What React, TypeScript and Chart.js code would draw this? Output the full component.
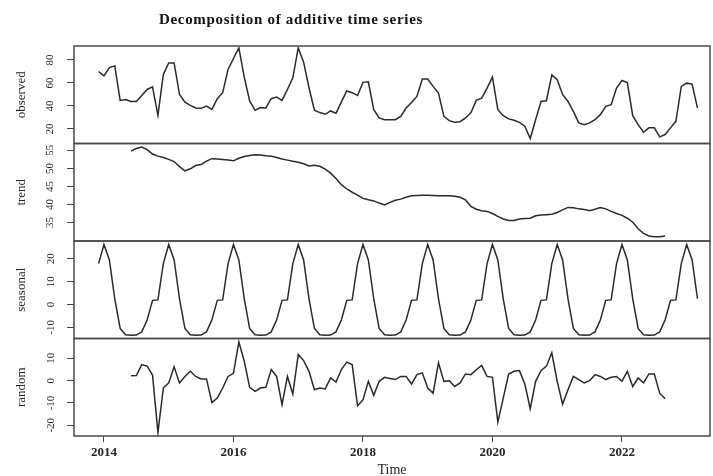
import React, { useEffect, useRef } from 'react';
import { Chart, registerables } from 'chart.js';

Chart.register(...registerables);

const TITLE = 'Decomposition of additive time series';
const X_LABEL = 'Time';
const START_TIME = 2013 + 11 / 12; // Dec 2013
const FREQUENCY = 12;
const MA_OFFSET = 6; // trend / random start 6 months later

const OBSERVED = [
  69.9, 66.1, 73.3, 74.8, 44.8, 45.5, 43.9, 43.9, 49.1, 54.3, 56.6, 31.8,
  67.3, 77.4, 77.4, 49.9, 43.3, 40.5, 38.2, 37.9, 39.9, 37.0, 46.3, 51.5,
  71.7, 81.2, 90.4, 65.0, 44.3, 36.2, 38.5, 38.2, 46.3, 47.7, 44.8, 54.3,
  64.4, 90.4, 78.0, 55.8, 36.2, 34.2, 32.7, 35.6, 33.6, 43.5, 53.0, 51.5,
  49.0, 60.5, 61.0, 36.7, 29.5, 28.0, 28.0, 28.0, 30.9, 38.2, 43.0, 48.2,
  63.3, 63.3, 57.0, 51.2, 30.9, 27.2, 25.7, 26.3, 29.5, 33.9, 44.8, 46.8,
  55.5, 65.0, 36.7, 31.5, 28.7, 27.5, 25.7, 22.3, 11.6, 28.0, 43.9, 44.5,
  67.0, 62.7, 50.0, 43.9, 35.2, 25.2, 23.7, 25.2, 28.0, 32.4, 39.6, 41.0,
  55.5, 62.1, 60.3, 31.5, 23.7, 17.1, 20.9, 20.9, 13.1, 15.1, 20.9, 26.6,
  56.9, 59.8, 59.0, 38.2,
];

const TREND = [
  54.8, 55.5, 55.9, 55.2, 54.0, 53.4, 53.0, 52.5, 51.9, 50.5, 49.3, 49.9,
  50.8, 51.1, 52.0, 52.7, 52.6, 52.5, 52.3, 52.1, 52.8, 53.3, 53.6, 53.8,
  53.7, 53.5, 53.4, 53.0, 52.6, 52.3, 52.0, 51.7, 51.3, 50.7, 50.9, 50.6,
  49.8, 48.7, 47.2, 45.5, 44.3, 43.4, 42.6, 41.7, 41.3, 41.0, 40.4, 39.9,
  40.6, 41.2, 41.5, 42.0, 42.4, 42.5, 42.6, 42.6, 42.5, 42.4, 42.4, 42.4,
  42.3, 42.0, 41.3, 39.5, 38.7, 38.3, 38.1, 37.5, 36.7, 36.0, 35.6, 35.6,
  36.0, 36.1, 36.2, 36.9, 37.1, 37.2, 37.3, 37.8, 38.5, 39.2, 39.1, 38.8,
  38.6, 38.3, 38.7, 39.2, 38.8, 38.1, 37.5, 37.0, 36.2, 35.1, 33.3, 32.0,
  31.3, 31.1, 31.1, 31.3,
];

const SEASONAL = [
  17.9,
  26.3, 19.5, 2.5, -10.5, -13.3, -13.5, -13.4, -12.0, -6.8, 1.8, 2.0, 17.9,
  26.3, 19.5, 2.5, -10.5, -13.3, -13.5, -13.4, -12.0, -6.8, 1.8, 2.0, 17.9,
  26.3, 19.5, 2.5, -10.5, -13.3, -13.5, -13.4, -12.0, -6.8, 1.8, 2.0, 17.9,
  26.3, 19.5, 2.5, -10.5, -13.3, -13.5, -13.4, -12.0, -6.8, 1.8, 2.0, 17.9,
  26.3, 19.5, 2.5, -10.5, -13.3, -13.5, -13.4, -12.0, -6.8, 1.8, 2.0, 17.9,
  26.3, 19.5, 2.5, -10.5, -13.3, -13.5, -13.4, -12.0, -6.8, 1.8, 2.0, 17.9,
  26.3, 19.5, 2.5, -10.5, -13.3, -13.5, -13.4, -12.0, -6.8, 1.8, 2.0, 17.9,
  26.3, 19.5, 2.5, -10.5, -13.3, -13.5, -13.4, -12.0, -6.8, 1.8, 2.0, 17.9,
  26.3, 19.5, 2.5, -10.5, -13.3, -13.5, -13.4, -12.0, -6.8, 1.8, 2.0, 17.9,
  26.3, 19.5, 2.5,
];

const RANDOM = [
  2.2, 2.3, 7.2, 6.5, 2.5, -23.3, -3.3, -1.0, 6.2, -1.0, 1.9, 4.2,
  1.9, 0.8, 0.8, -9.8, -7.8, -3.3, 1.9, 3.3, 17.4, 8.7, -3.0, -4.8,
  -3.3, -3.0, 5.0, 1.9, -10.8, 1.9, -6.0, 11.7, 9.0, 4.2, -4.1, -3.3,
  -3.7, 1.2, -0.6, 5.0, 8.3, 7.2, -11.3, -8.6, -0.3, -6.6, -0.3, 1.5,
  1.0, 0.5, 1.9, 1.9, -1.5, 2.7, 3.5, -3.3, -5.6, 8.0, -0.3, 0.0,
  -2.6, -1.0, 3.0, 2.7, 4.9, 6.8, 1.9, 1.5, -18.6, -7.8, 3.0, 4.2,
  4.5, -1.5, -12.6, -0.3, 4.5, 6.5, 12.5, -0.3, -10.5, -4.1, 1.9, 0.5,
  -1.0, 0.0, 2.7, 1.9, 0.5, 1.5, 1.9, -0.3, 4.2, -2.6, 1.2, -1.0,
  3.0, 3.0, -5.6, -8.1,
];

const X_TICKS = [2014, 2016, 2018, 2020, 2022];
const OBSERVED_TICKS = [20, 40, 60, 80];
const TREND_TICKS = [35, 40, 45, 50, 55];
const SEASONAL_TICKS = [-10, 0, 10, 20];
const RANDOM_TICKS = [-20, -10, 0, 10];

const FONT = 'Liberation Serif';
const INK = '#262626';

const toPoints = (values: number[], offset: number) =>
  values.map((v, i) => ({ x: START_TIME + (i + offset) / FREQUENCY, y: v }));

const PANELS = [
  { id: 'yObs', label: 'observed', values: OBSERVED, offset: 0, ticks: OBSERVED_TICKS, min: 7.3, max: 92.1, weight: 4, pad: 11 },
  { id: 'yTrend', label: 'trend', values: TREND, offset: MA_OFFSET, ticks: TREND_TICKS, min: 29.9, max: 56.9, weight: 3, pad: 11 },
  { id: 'ySeas', label: 'seasonal', values: SEASONAL, offset: 0, ticks: SEASONAL_TICKS, min: -14.9, max: 27.8, weight: 2, pad: 9 },
  { id: 'yRand', label: 'random', values: RANDOM, offset: MA_OFFSET, ticks: RANDOM_TICKS, min: -24.8, max: 18.9, weight: 1, pad: 9 },
];

const framePlugin = {
  id: 'frames',
  afterDraw(chart: any) {
    const { ctx, chartArea } = chart;
    ctx.save();
    ctx.strokeStyle = '#4a4a4a';
    ctx.lineWidth = 1.5;
    for (const p of PANELS) {
      const s = chart.scales[p.id];
      ctx.strokeRect(chartArea.left, s.top, chartArea.right - chartArea.left, s.bottom - s.top);
    }
    ctx.font = `bold 15px "${FONT}"`;
    ctx.fillStyle = '#111';
    ctx.textAlign = 'center';
    ctx.textBaseline = 'middle';
    (ctx as any).letterSpacing = '0.7px';
    ctx.fillText(TITLE, 291, 20);
    ctx.restore();
  },
};

export default function App() {
  const ref = useRef<HTMLCanvasElement | null>(null);

  useEffect(() => {
    if (!ref.current) return;
    const scales: any = {
      x: {
        type: 'linear',
        min: 2013.537,
        max: 2023.36,
        afterFit: (s: any) => { s.height = 40; },
        afterBuildTicks: (s: any) => { s.ticks = X_TICKS.map((value) => ({ value })); },
        border: { display: false },
        grid: { drawOnChartArea: false, drawTicks: true, tickLength: 6, color: '#444' },
        ticks: {
          callback: (v: any) => String(v),
          font: { family: FONT, size: 13, weight: 'bold' },
          color: INK,
          padding: 3,
          maxRotation: 0,
          autoSkip: false,
        },
        title: {
          display: true,
          text: X_LABEL,
          font: { family: FONT, size: 14 },
          color: INK,
          padding: { top: 0, bottom: -3 },
        },
      },
    };
    for (const p of PANELS) {
      scales[p.id] = {
        type: 'linear',
        position: 'left',
        stack: 'panels',
        stackWeight: 1,
        weight: p.weight,
        min: p.min,
        max: p.max,
        afterFit: (s: any) => { s.width = 74; },
        afterBuildTicks: (s: any) => { s.ticks = p.ticks.map((value) => ({ value })); },
        border: { display: false },
        grid: { drawOnChartArea: false, drawTicks: true, tickLength: 7, color: '#444' },
        ticks: {
          minRotation: 90,
          maxRotation: 90,
          crossAlign: 'center',
          padding: p.pad,
          font: { family: FONT, size: 11 },
          color: INK,
          autoSkip: false,
        },
        title: {
          display: true,
          text: p.label,
          font: { family: FONT, size: 13 },
          color: INK,
          padding: { top: 14, bottom: 0 },
        },
      };
    }

    const chart = new Chart(ref.current, {
      type: 'line',
      data: {
        datasets: PANELS.map((p) => ({
          label: p.label,
          data: toPoints(p.values, p.offset),
          yAxisID: p.id,
          borderColor: '#2a2a2a',
          borderWidth: 1.5,
          pointRadius: 0,
          tension: 0,
          fill: false,
        })),
      },
      options: {
        responsive: false,
        animation: false,
        devicePixelRatio: 1,
        parsing: false as any,
        layout: { padding: { top: 46, right: 3, left: 0, bottom: 0 } },
        plugins: { legend: { display: false }, tooltip: { enabled: false }, title: { display: false } },
        scales,
      } as any,
      plugins: [framePlugin],
    });
    return () => chart.destroy();
  }, []);

  return (
    <div style={{ position: 'absolute', left: 0, top: 0, width: 713, height: 476, background: '#fff' }}>
      <canvas ref={ref} width={713} height={476} style={{ display: 'block' }} />
    </div>
  );
}
